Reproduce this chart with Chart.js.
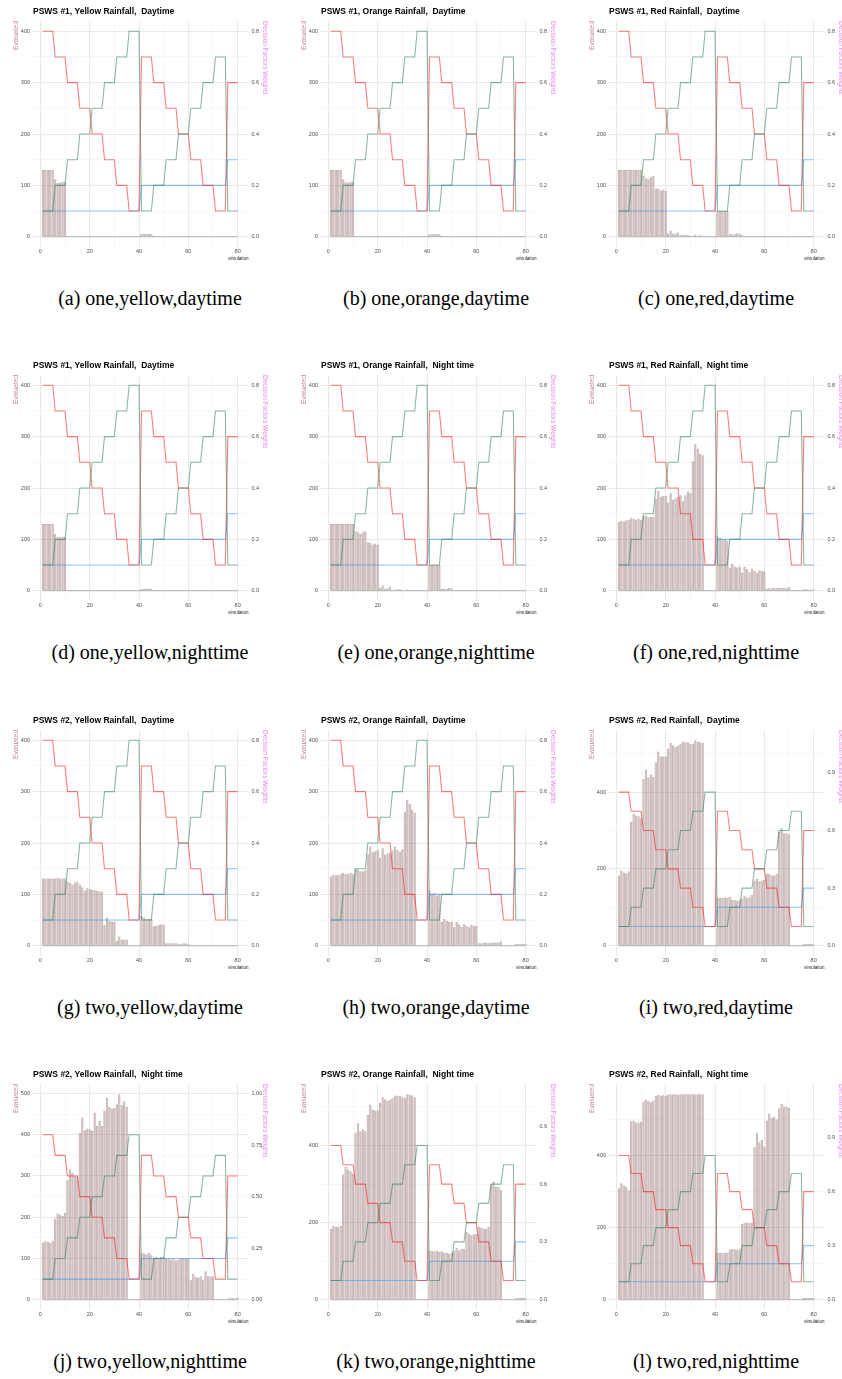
<!DOCTYPE html>
<html>
<head>
<meta charset="utf-8">
<script src="https://cdn.jsdelivr.net/npm/chart.js@4.4.1/dist/chart.umd.min.js"></script>
<style>
  html, body { margin: 0; padding: 0; background: #fff; overflow: hidden; }
  body { width: 842px; height: 1379px; position: relative; }
  .panel { position: absolute; width: 288px; height: 266px; }
  .caption {
    position: absolute; width: 288px; text-align: center; white-space: nowrap;
    font-family: "Liberation Serif", "DejaVu Serif", serif; font-size: 20px; line-height: 24px; color: #000;
  }
</style>
</head>
<body>
<script>
const SIMULATION = [
    1, 2, 3, 4, 5, 6, 7, 8, 9, 10,
    11, 12, 13, 14, 15, 16, 17, 18, 19, 20,
    21, 22, 23, 24, 25, 26, 27, 28, 29, 30,
    31, 32, 33, 34, 35, 36, 37, 38, 39, 40,
    41, 42, 43, 44, 45, 46, 47, 48, 49, 50,
    51, 52, 53, 54, 55, 56, 57, 58, 59, 60,
    61, 62, 63, 64, 65, 66, 67, 68, 69, 70,
    71, 72, 73, 74, 75, 76, 77, 78, 79, 80
];

// decision factor weights (same schedule in every panel)
const WEIGHT_RED = [
    0.8, 0.8, 0.8, 0.8, 0.8, 0.7, 0.7, 0.7, 0.7, 0.7,
    0.6, 0.6, 0.6, 0.6, 0.6, 0.5, 0.5, 0.5, 0.5, 0.5,
    0.4, 0.4, 0.4, 0.4, 0.4, 0.3, 0.3, 0.3, 0.3, 0.3,
    0.2, 0.2, 0.2, 0.2, 0.2, 0.1, 0.1, 0.1, 0.1, 0.1,
    0.7, 0.7, 0.7, 0.7, 0.7, 0.6, 0.6, 0.6, 0.6, 0.6,
    0.5, 0.5, 0.5, 0.5, 0.5, 0.4, 0.4, 0.4, 0.4, 0.4,
    0.3, 0.3, 0.3, 0.3, 0.3, 0.2, 0.2, 0.2, 0.2, 0.2,
    0.1, 0.1, 0.1, 0.1, 0.1, 0.6, 0.6, 0.6, 0.6, 0.6
];
const WEIGHT_GREEN = [
    0.1, 0.1, 0.1, 0.1, 0.1, 0.2, 0.2, 0.2, 0.2, 0.2,
    0.3, 0.3, 0.3, 0.3, 0.3, 0.4, 0.4, 0.4, 0.4, 0.4,
    0.5, 0.5, 0.5, 0.5, 0.5, 0.6, 0.6, 0.6, 0.6, 0.6,
    0.7, 0.7, 0.7, 0.7, 0.7, 0.8, 0.8, 0.8, 0.8, 0.8,
    0.1, 0.1, 0.1, 0.1, 0.1, 0.2, 0.2, 0.2, 0.2, 0.2,
    0.3, 0.3, 0.3, 0.3, 0.3, 0.4, 0.4, 0.4, 0.4, 0.4,
    0.5, 0.5, 0.5, 0.5, 0.5, 0.6, 0.6, 0.6, 0.6, 0.6,
    0.7, 0.7, 0.7, 0.7, 0.7, 0.1, 0.1, 0.1, 0.1, 0.1
];
const WEIGHT_BLUE = [
    0.1, 0.1, 0.1, 0.1, 0.1, 0.1, 0.1, 0.1, 0.1, 0.1,
    0.1, 0.1, 0.1, 0.1, 0.1, 0.1, 0.1, 0.1, 0.1, 0.1,
    0.1, 0.1, 0.1, 0.1, 0.1, 0.1, 0.1, 0.1, 0.1, 0.1,
    0.1, 0.1, 0.1, 0.1, 0.1, 0.1, 0.1, 0.1, 0.1, 0.1,
    0.2, 0.2, 0.2, 0.2, 0.2, 0.2, 0.2, 0.2, 0.2, 0.2,
    0.2, 0.2, 0.2, 0.2, 0.2, 0.2, 0.2, 0.2, 0.2, 0.2,
    0.2, 0.2, 0.2, 0.2, 0.2, 0.2, 0.2, 0.2, 0.2, 0.2,
    0.2, 0.2, 0.2, 0.2, 0.2, 0.3, 0.3, 0.3, 0.3, 0.3
];
const WEIGHT_GREY = [
    0, 0, 0, 0, 0, 0, 0, 0, 0, 0,
    0, 0, 0, 0, 0, 0, 0, 0, 0, 0,
    0, 0, 0, 0, 0, 0, 0, 0, 0, 0,
    0, 0, 0, 0, 0, 0, 0, 0, 0, 0,
    0, 0, 0, 0, 0, 0, 0, 0, 0, 0,
    0, 0, 0, 0, 0, 0, 0, 0, 0, 0,
    0, 0, 0, 0, 0, 0, 0, 0, 0, 0,
    0, 0, 0, 0, 0, 0, 0, 0, 0, 0
];

// evaluated counts per simulation, one array per panel
const EVAL_A = [
    130, 130, 130, 130, 130, 112, 105, 105, 107, 107,
    2, 0, 0, 0, 0, 0, 0, 0, 0, 0,
    0, 0, 0, 0, 0, 0, 0, 0, 0, 0,
    0, 0, 0, 0, 0, 0, 0, 0, 0, 0,
    6, 6, 6, 6, 5, 0, 0, 0, 0, 0,
    0, 0, 0, 0, 0, 0, 0, 0, 0, 0,
    0, 0, 0, 0, 0, 0, 0, 0, 0, 0,
    0, 0, 0, 0, 0, 0, 0, 0, 0, 0
];
const EVAL_B = [
    130, 130, 130, 130, 130, 112, 106, 105, 107, 107,
    2, 0, 0, 0, 0, 0, 0, 0, 0, 0,
    0, 0, 0, 0, 0, 0, 0, 0, 0, 0,
    0, 0, 0, 0, 0, 0, 0, 0, 0, 0,
    5, 5, 6, 5, 5, 0, 0, 0, 0, 0,
    0, 0, 0, 0, 0, 0, 0, 0, 0, 0,
    0, 0, 0, 0, 0, 0, 0, 0, 0, 0,
    0, 0, 0, 0, 0, 0, 0, 0, 0, 0
];
const EVAL_C = [
    130, 130, 130, 130, 130, 130, 130, 130, 130, 130,
    118, 114, 113, 116, 118, 94, 94, 90, 92, 89,
    7, 12, 6, 7, 8, 4, 4, 4, 3, 2,
    2, 4, 1, 3, 1, 0, 0, 0, 0, 0,
    50, 50, 50, 50, 50, 5, 5, 5, 7, 6,
    3, 1, 1, 0, 0, 2, 0, 0, 0, 0,
    0, 0, 0, 0, 0, 0, 0, 0, 0, 0,
    0, 0, 0, 0, 0, 0, 0, 0, 0, 0
];
const EVAL_D = [
    130, 130, 130, 130, 130, 111, 104, 104, 105, 105,
    1, 0, 0, 0, 0, 0, 0, 0, 0, 0,
    0, 0, 0, 0, 0, 0, 0, 0, 0, 0,
    0, 0, 0, 0, 0, 0, 0, 0, 0, 0,
    4, 4, 4, 4, 4, 0, 0, 0, 0, 0,
    0, 0, 0, 0, 0, 0, 0, 0, 0, 0,
    0, 0, 0, 0, 0, 0, 0, 0, 0, 0,
    0, 0, 0, 0, 0, 0, 0, 0, 0, 0
];
const EVAL_E = [
    130, 130, 130, 130, 130, 130, 130, 130, 130, 130,
    117, 114, 111, 114, 116, 94, 93, 90, 92, 89,
    6, 10, 4, 5, 7, 2, 2, 3, 3, 1,
    0, 2, 0, 1, 0, 0, 0, 0, 0, 0,
    50, 50, 50, 50, 50, 4, 4, 4, 6, 5,
    1, 0, 0, 0, 0, 1, 0, 0, 0, 0,
    0, 0, 0, 0, 0, 0, 0, 0, 0, 0,
    0, 0, 0, 0, 0, 0, 0, 0, 0, 0
];
const EVAL_F = [
    134, 136, 135, 137, 138, 141, 140, 138, 140, 138,
    146, 146, 143, 144, 144, 178, 194, 183, 185, 185,
    172, 190, 177, 180, 183, 186, 174, 186, 193, 190,
    252, 285, 277, 266, 264, 0, 0, 0, 0, 0,
    106, 103, 100, 100, 98, 45, 52, 47, 45, 47,
    35, 46, 42, 36, 43, 39, 35, 40, 39, 38,
    4, 5, 5, 6, 5, 6, 6, 6, 5, 7,
    0, 0, 0, 0, 0, 3, 3, 1, 2, 3
];
const EVAL_G = [
    131, 131, 131, 131, 131, 131, 132, 131, 131, 131,
    125, 122, 119, 123, 125, 119, 114, 107, 112, 111,
    109, 108, 107, 106, 105, 41, 55, 48, 46, 46,
    9, 18, 12, 12, 12, 0, 0, 0, 0, 0,
    58, 55, 52, 52, 52, 38, 39, 41, 42, 41,
    5, 5, 5, 5, 5, 4, 3, 5, 5, 3,
    2, 1, 1, 1, 1, 2, 2, 1, 1, 1,
    0, 0, 0, 0, 0, 2, 0, 0, 1, 0
];
const EVAL_H = [
    135, 138, 137, 137, 139, 142, 140, 139, 142, 139,
    150, 148, 145, 145, 147, 178, 193, 182, 184, 187,
    172, 190, 177, 180, 181, 186, 193, 187, 183, 188,
    260, 284, 276, 265, 259, 0, 0, 0, 0, 0,
    108, 101, 103, 98, 101, 46, 52, 48, 46, 47,
    36, 46, 42, 37, 42, 39, 36, 41, 39, 39,
    5, 5, 6, 6, 6, 6, 7, 6, 7, 8,
    0, 0, 0, 0, 0, 3, 4, 3, 3, 4
];
const EVAL_I = [
    183, 196, 191, 189, 194, 323, 343, 339, 337, 332,
    435, 459, 439, 446, 440, 478, 506, 493, 493, 493,
    513, 528, 522, 518, 520, 526, 532, 530, 530, 526,
    526, 535, 532, 530, 528, 0, 0, 0, 0, 0,
    124, 124, 124, 126, 124, 127, 120, 120, 117, 120,
    123, 130, 124, 126, 132, 170, 174, 168, 170, 171,
    187, 187, 183, 183, 187, 296, 306, 293, 293, 290,
    0, 0, 0, 0, 0, 4, 5, 5, 5, 4
];
const EVAL_J = [
    139, 142, 140, 138, 143, 197, 209, 206, 203, 210,
    291, 316, 307, 299, 298, 405, 442, 411, 415, 413,
    409, 454, 421, 433, 421, 458, 489, 467, 463, 465,
    474, 498, 472, 481, 468, 0, 0, 0, 0, 0,
    113, 112, 110, 113, 108, 102, 104, 100, 104, 104,
    99, 100, 97, 100, 95, 97, 99, 99, 100, 100,
    47, 63, 55, 53, 57, 47, 69, 57, 57, 57,
    0, 0, 0, 0, 0, 2, 4, 4, 3, 5
];
const EVAL_K = [
    184, 192, 189, 189, 191, 325, 345, 338, 333, 327,
    434, 458, 437, 442, 437, 479, 505, 492, 491, 491,
    511, 525, 520, 516, 518, 524, 530, 529, 529, 525,
    524, 533, 531, 530, 525, 0, 0, 0, 0, 0,
    128, 126, 126, 127, 124, 126, 121, 121, 119, 121,
    126, 135, 128, 132, 132, 176, 172, 168, 170, 171,
    189, 187, 184, 184, 189, 298, 307, 293, 293, 284,
    0, 0, 0, 0, 0, 4, 5, 5, 5, 5
];
const EVAL_L = [
    309, 323, 317, 314, 304, 495, 497, 492, 492, 494,
    550, 554, 552, 548, 553, 566, 569, 566, 567, 566,
    569, 570, 570, 570, 569, 570, 570, 570, 570, 570,
    570, 570, 570, 570, 570, 0, 0, 0, 0, 0,
    130, 130, 130, 130, 131, 139, 141, 140, 139, 141,
    210, 214, 214, 213, 214, 423, 463, 437, 444, 425,
    497, 517, 505, 507, 501, 531, 543, 536, 535, 532,
    0, 0, 0, 0, 0, 5, 5, 5, 5, 5
];

const TITLES = [
    'PSWS #1, Yellow Rainfall,  Daytime', 'PSWS #1, Orange Rainfall,  Daytime', 'PSWS #1, Red Rainfall,  Daytime',
    'PSWS #1, Yellow Rainfall,  Daytime', 'PSWS #1, Orange Rainfall,  Night time', 'PSWS #1, Red Rainfall,  Night time',
    'PSWS #2, Yellow Rainfall,  Daytime', 'PSWS #2, Orange Rainfall,  Daytime', 'PSWS #2, Red Rainfall,  Daytime',
    'PSWS #2, Yellow Rainfall,  Night time', 'PSWS #2, Orange Rainfall,  Night time', 'PSWS #2, Red Rainfall,  Night time'
];
const CAPTIONS = [
    '(a) one,yellow,daytime', '(b) one,orange,daytime', '(c) one,red,daytime',
    '(d) one,yellow,nighttime', '(e) one,orange,nighttime', '(f) one,red,nighttime',
    '(g) two,yellow,daytime', '(h) two,orange,daytime', '(i) two,red,daytime',
    '(j) two,yellow,nighttime', '(k) two,orange,nighttime', '(l) two,red,nighttime'
];
const EVALUATED = [EVAL_A, EVAL_B, EVAL_C, EVAL_D, EVAL_E, EVAL_F, EVAL_G, EVAL_H, EVAL_I, EVAL_J, EVAL_K, EVAL_L];

// axis tick labels
const X_TICKS = [0, 10, 20, 30, 40, 50, 60, 70, 80];
const LEFT_LABEL_STEP = [100, 100, 100, 100, 100, 100, 100, 100, 200, 100, 200, 200];
const RIGHT_TICKS_A = [0, 0.2, 0.4, 0.6, 0.8];
const RIGHT_TICKS_B = [0, 0.3, 0.6, 0.9];
const RIGHT_TICKS_C = [0, 0.25, 0.5, 0.75, 1];
const RIGHT_TICKS = [
    RIGHT_TICKS_A, RIGHT_TICKS_A, RIGHT_TICKS_A,
    RIGHT_TICKS_A, RIGHT_TICKS_A, RIGHT_TICKS_A,
    RIGHT_TICKS_A, RIGHT_TICKS_A, RIGHT_TICKS_B,
    RIGHT_TICKS_C, RIGHT_TICKS_B, RIGHT_TICKS_B
];

const COL_LEFT = [0, 288, 576];
const CAPTION_CENTER = [150, 436, 716];
const ROW_TOP = [0, 354, 709, 1063];
const SEC_SCALE = 500;   // weights * 500 = evaluated

const FONT = '"Liberation Sans", Arial, sans-serif';
const TICK_COLOR = '#4d4d4d';

const panelTitle = {
    id: 'panelTitle',
    afterDraw(chart, args, opts) {
        const ctx = chart.ctx;
        ctx.save();
        ctx.font = 'bold 8.5px ' + FONT;
        ctx.fillStyle = '#000';
        ctx.textBaseline = 'middle';
        ctx.fillText(opts.text, chart.chartArea.left + 1, 11.5);
        ctx.restore();
    }
};

function gridColor(ctx, step) {
    if (!ctx.tick) return 'rgba(0,0,0,0)';
    return ctx.tick.value % step === 0 ? '#e6e6e6' : '#f1f1f1';
}

function toPoints(values) {
    return SIMULATION.map((s, i) => ({ x: s, y: values[i] }));
}

function lineSet(values, color, order) {
    return {
        type: 'line',
        data: toPoints(values),
        yAxisID: 'y1',
        borderColor: color,
        borderWidth: 1.1,
        pointRadius: 0,
        tension: 0,
        fill: false,
        order: order
    };
}

function buildPanel(idx) {
    const col = idx % 3;
    const row = Math.floor(idx / 3);
    const values = EVALUATED[idx];
    const labelStep = LEFT_LABEL_STEP[idx];
    const gridStep = labelStep / 2;
    const rightTicks = RIGHT_TICKS[idx];
    const digits = rightTicks === RIGHT_TICKS_C ? 2 : 1;

    const top = Math.max(400, Math.max(...values));
    const yMin = -0.05 * top;
    const yMax = 1.05 * top;

    const wrap = document.createElement('div');
    wrap.className = 'panel';
    wrap.style.left = COL_LEFT[col] + 'px';
    wrap.style.top = ROW_TOP[row] + 'px';
    const canvas = document.createElement('canvas');
    canvas.width = 288;
    canvas.height = 266;
    canvas.style.width = '288px';
    canvas.style.height = '266px';
    wrap.appendChild(canvas);
    document.body.appendChild(wrap);

    const cap = document.createElement('div');
    cap.className = 'caption';
    cap.textContent = CAPTIONS[idx];
    cap.style.left = (CAPTION_CENTER[col] - 144) + 'px';
    cap.style.top = (ROW_TOP[row] + 286) + 'px';
    document.body.appendChild(cap);

    new Chart(canvas.getContext('2d'), {
        type: 'bar',
        data: {
            datasets: [
                lineSet(WEIGHT_GREEN, 'rgba(46, 125, 80, 0.55)', 1),
                lineSet(WEIGHT_RED, 'rgba(255, 0, 0, 0.5)', 2),
                lineSet(WEIGHT_BLUE, 'rgba(30, 144, 255, 0.5)', 3),
                lineSet(WEIGHT_GREY, 'rgba(120, 120, 120, 0.5)', 4),
                {
                    type: 'bar',
                    data: toPoints(values),
                    yAxisID: 'y',
                    backgroundColor: 'rgba(170, 132, 132, 0.5)',
                    borderColor: 'rgba(100, 68, 68, 0.55)',
                    borderWidth: 0.5,
                    barPercentage: 0.95,
                    categoryPercentage: 1,
                    order: 5
                }
            ]
        },
        options: {
            responsive: false,
            animation: false,
            layout: { padding: { top: 21, left: 0, right: 0, bottom: 0 } },
            plugins: {
                legend: { display: false },
                tooltip: { enabled: false },
                panelTitle: { text: TITLES[idx] }
            },
            scales: {
                x: {
                    type: 'linear',
                    offset: false,
                    min: -3.4,
                    max: 84.4,
                    afterBuildTicks: scale => { scale.ticks = X_TICKS.map(v => ({ value: v })); },
                    afterFit: scale => { scale.height = 19; },
                    ticks: {
                        autoSkip: false,
                        maxRotation: 0,
                        padding: 1,
                        color: TICK_COLOR,
                        font: { family: FONT, size: 5.5 },
                        callback: v => (v % 20 === 0 ? v : '')
                    },
                    grid: {
                        offset: false,
                        drawTicks: false,
                        color: ctx => gridColor(ctx, 20),
                        lineWidth: ctx => (ctx.tick && ctx.tick.value % 20 === 0 ? 0.9 : 0.6)
                    },
                    border: { display: false },
                    title: {
                        display: true,
                        text: 'simulation',
                        align: 'end',
                        color: '#222',
                        font: { family: FONT, size: 4.5 },
                        padding: { top: 0, bottom: 5 }
                    }
                },
                y: {
                    position: 'left',
                    min: yMin,
                    max: yMax,
                    afterBuildTicks: scale => {
                        const t = [];
                        for (let v = 0; v <= yMax; v += gridStep) t.push({ value: v });
                        scale.ticks = t;
                    },
                    afterFit: scale => { scale.width = 32; },
                    ticks: {
                        autoSkip: false,
                        padding: 2,
                        color: TICK_COLOR,
                        font: { family: FONT, size: 5.5 },
                        callback: v => (v % labelStep === 0 ? v : '')
                    },
                    grid: {
                        drawTicks: false,
                        color: ctx => gridColor(ctx, labelStep),
                        lineWidth: ctx => (ctx.tick && ctx.tick.value % labelStep === 0 ? 0.9 : 0.6)
                    },
                    border: { display: false },
                    title: {
                        display: true,
                        text: 'Evaluated',
                        align: 'end',
                        color: 'rosybrown',
                        font: { family: FONT, size: 6.5 },
                        padding: { top: 12, bottom: 0 }
                    }
                },
                y1: {
                    position: 'right',
                    min: yMin / SEC_SCALE,
                    max: yMax / SEC_SCALE,
                    afterBuildTicks: scale => { scale.ticks = rightTicks.map(v => ({ value: v })); },
                    afterFit: scale => { scale.width = 39.5; },
                    ticks: {
                        autoSkip: false,
                        padding: 3,
                        color: TICK_COLOR,
                        font: { family: FONT, size: 5.5 },
                        callback: v => Number(v).toFixed(digits)
                    },
                    grid: { display: false, drawTicks: false },
                    border: { display: false },
                    title: {
                        display: true,
                        text: 'Decision Factors Weights',
                        align: 'end',
                        color: 'violet',
                        font: { family: FONT, size: 6.5 },
                        padding: { top: 19, bottom: 0 }
                    }
                }
            }
        },
        plugins: [panelTitle]
    });
}

for (let i = 0; i < EVALUATED.length; i++) {
    buildPanel(i);
}
</script>
</body>
</html>
